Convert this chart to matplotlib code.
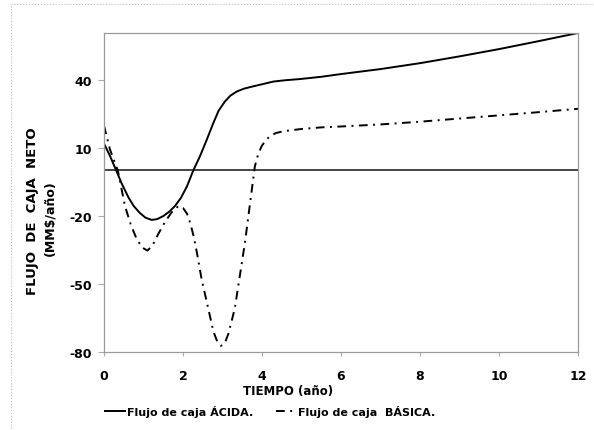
import matplotlib.pyplot as plt
from matplotlib.lines import Line2D
from matplotlib.patches import Rectangle

# datos
t_acida = [0, 0.15, 0.28, 0.45, 0.62, 0.75, 0.9, 1.05, 1.21, 1.35, 1.5, 1.65, 1.8, 1.95,
           2.1, 2.26, 2.43, 2.6, 2.77, 2.9, 3.06, 3.2, 3.36, 3.55, 3.78, 4.0, 4.29,
           4.6, 4.96, 5.5, 6, 7, 8, 9, 10, 11, 12]
f_acida = [11.8, 6.5, 1.2, -5.8, -11.9, -15.6, -18.6, -20.8, -21.8, -21.4, -20.1, -18.2,
           -15.6, -12.0, -7.0, 0, 6.3, 13.5, 21.0, 26.3, 30.4, 33.0, 34.8, 36.1, 37.1,
           38.0, 39.2, 39.8, 40.3, 41.3, 42.5, 44.7, 47.3, 50.3, 53.5, 57, 60.6]

t_basica = [0, 0.15, 0.35, 0.53, 0.68, 0.83, 0.97, 1.1, 1.23, 1.37, 1.55, 1.71, 1.88,
            2.0, 2.1, 2.18, 2.27, 2.35, 2.47, 2.64, 2.77, 2.87, 2.96, 3.06, 3.15, 3.31,
            3.44, 3.57, 3.7, 3.82, 3.9, 3.99, 4.1, 4.2, 4.35, 4.54, 5.0, 5.5, 6, 7, 8,
            9, 10, 11, 12]
f_basica = [19.8, 9.3, 0, -15.6, -24.0, -30.3, -34.0, -35.3, -33.0, -28.1, -22.5, -18.5,
            -15.7, -16.5, -19.0, -23, -29, -36, -47.8, -60.9, -71, -75.5, -77.3, -76.0,
            -71.9, -60.9, -46.3, -31.6, -14.1, 1.9, 7.0, 10.7, 13.4, 15.1, 16.5, 17.3,
            18.3, 19.0, 19.4, 20.3, 21.5, 22.9, 24.3, 25.7, 27.2]

xticks = [0, 2, 4, 6, 8, 10, 12]
yticks = [-80, -50, -20, 10, 40]

plt.rcParams['font.family'] = 'DejaVu Sans'
plt.rcParams['font.weight'] = 'bold'
plt.rcParams['axes.unicode_minus'] = False

fig = plt.figure(figsize=(5.94, 4.31), dpi=100)
ax = fig.add_axes([104/594, 1 - 353/431, 474/594, 319/431])

dashdot = (0, (4.5, 2.8, 1.0, 2.8))
ax.plot(t_acida, f_acida, color='black', lw=1.4)
ax.plot(t_basica, f_basica, color='black', lw=1.4, linestyle=dashdot)
ax.axhline(0, color='#111111', lw=1.1)

ax.set_xlim(0, 12)
ax.set_ylim(-80, 60.6)
ax.set_xticks(xticks)
ax.set_yticks(yticks)
ax.tick_params(axis='x', length=3, color='#aaaaaa', pad=9, labelsize=9)
ax.tick_params(axis='y', length=4.5, color='#aaaaaa', pad=4, labelsize=9)
for s in ax.spines.values():
    s.set_color('#9a9a9a')
    s.set_linewidth(0.9)

fig.text(288/594, 1 - 392/431, 'TIEMPO (año)', ha='center', va='center', fontsize=8.5)
fig.text(33/594, 1 - 211/431, 'FLUJO  DE  CAJA  NETO', rotation=90,
         ha='center', va='center', fontsize=9.5)
fig.text(50/594, 1 - 218/431, '(MM$/año)', rotation=90,
         ha='center', va='center', fontsize=9)

handles = [Line2D([], [], color='black', lw=1.4),
           Line2D([], [], color='black', lw=1.4, linestyle=dashdot)]
fig.legend(handles, ['Flujo de caja ÁCIDA.', 'Flujo de caja  BÁSICA.'],
           loc='center', bbox_to_anchor=(270/594, 1 - 412/431), ncol=2,
           frameon=False, fontsize=8, handlelength=1.8, handletextpad=0.2,
           columnspacing=2.0)

fig.patches.append(Rectangle((11/594, -0.1), 1.2, 1 - 5/431 + 0.1,
                             transform=fig.transFigure, fill=False,
                             edgecolor='#bbbbbb', linestyle=':', lw=0.8))

fig.savefig('out.png', dpi=100)
